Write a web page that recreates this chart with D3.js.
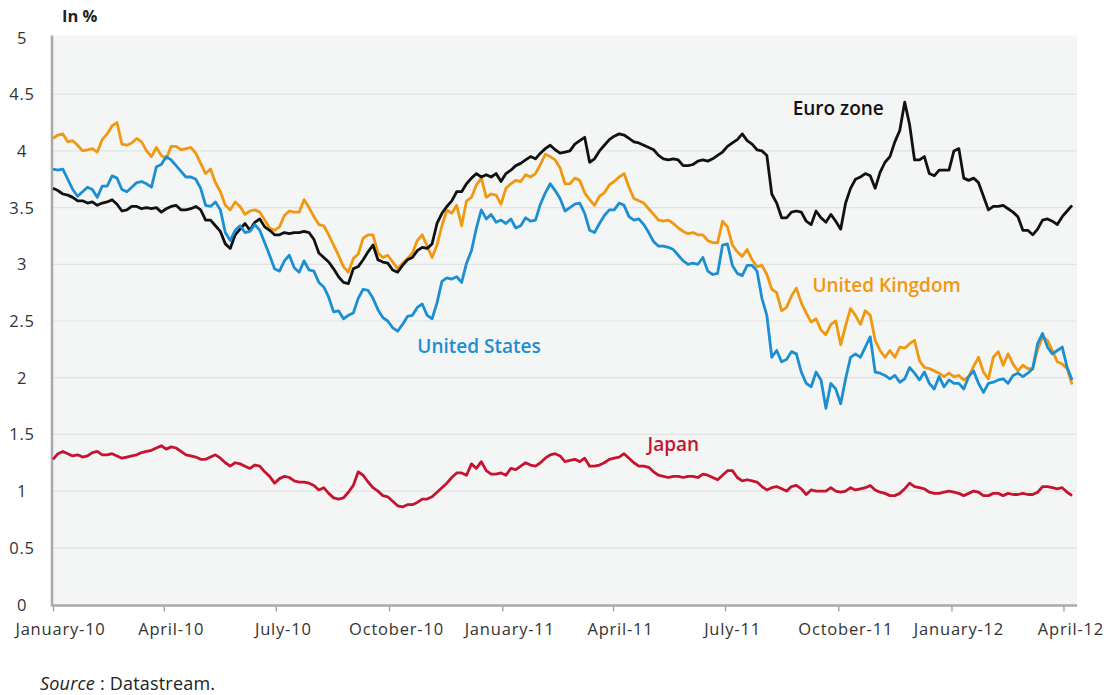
<!DOCTYPE html>
<html>
<head>
<meta charset="utf-8">
<script src="https://cdn.jsdelivr.net/npm/d3@7"></script>
<style>
  body { margin: 0; background: #fff; }
  svg text { font-family: "Open Sans", "DejaVu Sans", sans-serif; }
</style>
</head>
<body>
<div id="viz"></div>
<script>
// 10-year government bond yields, read every 4 days from 1 Jan 2010
sampleStart = "2010-01-01";
sampleStepDays = 4;

euroZone = [
  3.67, 3.65, 3.62, 3.61, 3.59, 3.56, 3.56, 3.54, 3.55, 3.52,
  3.54, 3.55, 3.57, 3.53, 3.47, 3.48, 3.51, 3.51, 3.49, 3.50,
  3.49, 3.50, 3.46, 3.49, 3.51, 3.52, 3.48, 3.48, 3.49, 3.51,
  3.48, 3.39, 3.39, 3.34, 3.29, 3.18, 3.14, 3.26, 3.31, 3.36,
  3.30, 3.37, 3.40, 3.33, 3.30, 3.26, 3.26, 3.28, 3.27, 3.28,
  3.28, 3.29, 3.28, 3.22, 3.10, 3.06, 3.02, 2.96, 2.89, 2.84,
  2.83, 2.96, 2.98, 3.04, 3.11, 3.17, 3.04, 3.02, 3.01, 2.95,
  2.93, 2.99, 3.04, 3.06, 3.12, 3.15, 3.14, 3.18, 3.36, 3.45,
  3.51, 3.56, 3.64, 3.64, 3.71, 3.76, 3.80, 3.77, 3.79, 3.77,
  3.80, 3.73, 3.80, 3.83, 3.87, 3.89, 3.92, 3.95, 3.93, 3.98,
  4.02, 4.05, 4.01, 3.98, 3.99, 4.00, 4.06, 4.09, 4.12, 3.90,
  3.93, 4.00, 4.05, 4.10, 4.13, 4.15, 4.14, 4.11, 4.08, 4.07,
  4.05, 4.03, 4.01, 3.96, 3.93, 3.92, 3.93, 3.92, 3.87, 3.87,
  3.88, 3.91, 3.92, 3.91, 3.93, 3.96, 3.99, 4.04, 4.07, 4.10,
  4.15, 4.09, 4.06, 4.01, 4.00, 3.96, 3.62, 3.54, 3.41, 3.41,
  3.46, 3.47, 3.46, 3.38, 3.35, 3.47, 3.41, 3.37, 3.44, 3.38,
  3.31, 3.54, 3.67, 3.75, 3.77, 3.80, 3.78, 3.67, 3.81, 3.90,
  3.95, 4.08, 4.18, 4.43, 4.23, 3.92, 3.92, 3.95, 3.80, 3.78,
  3.83, 3.83, 3.83, 4.00, 4.02, 3.76, 3.74, 3.76, 3.72, 3.60,
  3.48, 3.51, 3.51, 3.52, 3.49, 3.46, 3.42, 3.30, 3.30, 3.26,
  3.31, 3.39, 3.40, 3.38, 3.35, 3.42, 3.47, 3.52
];

unitedKingdom = [
  4.11, 4.14, 4.15, 4.08, 4.09, 4.05, 4.00, 4.01, 4.02, 3.99,
  4.10, 4.15, 4.22, 4.25, 4.06, 4.05, 4.07, 4.11, 4.08, 4.00,
  3.95, 4.03, 3.96, 3.93, 4.04, 4.04, 4.01, 4.02, 4.03, 3.98,
  3.89, 3.80, 3.84, 3.72, 3.64, 3.52, 3.48, 3.55, 3.51, 3.44,
  3.47, 3.48, 3.46, 3.39, 3.32, 3.30, 3.33, 3.43, 3.47, 3.46,
  3.46, 3.57, 3.50, 3.42, 3.35, 3.34, 3.26, 3.17, 3.08, 2.98,
  2.93, 3.05, 3.09, 3.23, 3.26, 3.26, 3.10, 3.06, 3.08, 3.02,
  2.96, 3.01, 3.05, 3.10, 3.21, 3.26, 3.16, 3.06, 3.17, 3.34,
  3.48, 3.45, 3.52, 3.34, 3.56, 3.59, 3.70, 3.76, 3.59, 3.62,
  3.61, 3.53, 3.67, 3.71, 3.74, 3.73, 3.79, 3.77, 3.80, 3.88,
  3.97, 3.95, 3.92, 3.85, 3.71, 3.71, 3.76, 3.74, 3.63, 3.57,
  3.52, 3.60, 3.63, 3.70, 3.73, 3.77, 3.80, 3.68, 3.58, 3.56,
  3.54, 3.49, 3.44, 3.39, 3.38, 3.39, 3.36, 3.32, 3.29, 3.27,
  3.28, 3.26, 3.26, 3.21, 3.19, 3.19, 3.38, 3.33, 3.17, 3.11,
  3.07, 3.13, 3.04, 2.98, 2.99, 2.91, 2.78, 2.75, 2.59, 2.62,
  2.72, 2.79, 2.66, 2.57, 2.49, 2.52, 2.42, 2.38, 2.47, 2.50,
  2.29, 2.46, 2.61, 2.55, 2.47, 2.59, 2.55, 2.33, 2.24, 2.18,
  2.24, 2.18, 2.27, 2.26, 2.30, 2.33, 2.15, 2.09, 2.08, 2.06,
  2.04, 2.01, 2.04, 2.01, 2.02, 1.98, 2.01, 2.10, 2.18, 2.05,
  1.99, 2.18, 2.23, 2.11, 2.21, 2.12, 2.06, 2.11, 2.08, 2.08,
  2.25, 2.36, 2.33, 2.24, 2.14, 2.12, 2.08, 1.94
];

unitedStates = [
  3.84, 3.83, 3.84, 3.75, 3.66, 3.60, 3.64, 3.68, 3.66, 3.59,
  3.69, 3.69, 3.78, 3.76, 3.66, 3.64, 3.68, 3.72, 3.73, 3.71,
  3.68, 3.86, 3.88, 3.95, 3.92, 3.87, 3.82, 3.77, 3.77, 3.75,
  3.67, 3.52, 3.51, 3.55, 3.48, 3.28, 3.21, 3.30, 3.34, 3.28,
  3.29, 3.35, 3.30, 3.19, 3.08, 2.96, 2.94, 3.03, 3.08, 2.97,
  2.93, 3.03, 2.95, 2.94, 2.84, 2.80, 2.71, 2.58, 2.59, 2.52,
  2.55, 2.57, 2.70, 2.78, 2.77, 2.70, 2.60, 2.53, 2.50, 2.44,
  2.41, 2.47, 2.54, 2.55, 2.62, 2.65, 2.55, 2.52, 2.66, 2.85,
  2.88, 2.87, 2.89, 2.84, 3.01, 3.12, 3.32, 3.48, 3.40, 3.44,
  3.37, 3.39, 3.36, 3.40, 3.32, 3.34, 3.41, 3.38, 3.39, 3.53,
  3.63, 3.71, 3.65, 3.58, 3.47, 3.50, 3.53, 3.54, 3.45, 3.30,
  3.28, 3.36, 3.43, 3.48, 3.48, 3.54, 3.52, 3.42, 3.39, 3.40,
  3.35, 3.28, 3.20, 3.16, 3.16, 3.15, 3.13, 3.08, 3.03, 3.00,
  3.01, 3.00, 3.06, 2.94, 2.91, 2.92, 3.17, 3.18, 2.99, 2.92,
  2.90, 2.99, 2.99, 2.94, 2.70, 2.55, 2.18, 2.24, 2.14, 2.16,
  2.23, 2.21, 2.05, 1.95, 1.92, 2.05, 1.98, 1.73, 1.95, 1.90,
  1.77, 1.99, 2.18, 2.21, 2.18, 2.27, 2.36, 2.05, 2.04, 2.02,
  1.99, 2.02, 1.96, 1.99, 2.09, 2.04, 1.98, 2.05, 1.95, 1.90,
  2.01, 1.92, 1.98, 1.95, 1.95, 1.90, 2.01, 2.06, 1.95, 1.87,
  1.95, 1.96, 1.98, 1.99, 1.95, 2.02, 2.04, 2.01, 2.04, 2.08,
  2.30, 2.39, 2.27, 2.21, 2.24, 2.27, 2.09, 1.98
];

japan = [
  1.28, 1.33, 1.35, 1.33, 1.31, 1.32, 1.30, 1.31, 1.34, 1.35,
  1.32, 1.32, 1.33, 1.31, 1.29, 1.30, 1.31, 1.32, 1.34, 1.35,
  1.36, 1.38, 1.40, 1.37, 1.39, 1.38, 1.35, 1.32, 1.31, 1.30,
  1.28, 1.28, 1.30, 1.32, 1.29, 1.25, 1.22, 1.25, 1.24, 1.22,
  1.20, 1.23, 1.22, 1.17, 1.13, 1.07, 1.11, 1.13, 1.12, 1.09,
  1.08, 1.08, 1.07, 1.05, 1.01, 1.03, 0.98, 0.94, 0.93, 0.94,
  0.99, 1.05, 1.17, 1.14, 1.08, 1.03, 1.00, 0.96, 0.95, 0.91,
  0.87, 0.86, 0.88, 0.88, 0.90, 0.93, 0.93, 0.95, 0.99, 1.03,
  1.07, 1.12, 1.16, 1.16, 1.14, 1.24, 1.20, 1.26, 1.18, 1.15,
  1.15, 1.16, 1.14, 1.20, 1.19, 1.22, 1.25, 1.23, 1.22, 1.25,
  1.29, 1.32, 1.33, 1.31, 1.26, 1.27, 1.28, 1.26, 1.29, 1.22,
  1.22, 1.23, 1.25, 1.28, 1.29, 1.30, 1.33, 1.29, 1.25, 1.22,
  1.22, 1.21, 1.17, 1.14, 1.13, 1.12, 1.13, 1.13, 1.12, 1.13,
  1.13, 1.12, 1.15, 1.14, 1.12, 1.10, 1.14, 1.18, 1.18, 1.12,
  1.09, 1.10, 1.09, 1.08, 1.04, 1.01, 1.03, 1.04, 1.02, 1.00,
  1.04, 1.05, 1.02, 0.97, 1.01, 1.00, 1.00, 1.00, 1.03, 1.00,
  0.99, 1.00, 1.03, 1.01, 1.02, 1.03, 1.05, 1.01, 0.99, 0.98,
  0.96, 0.96, 0.98, 1.02, 1.07, 1.04, 1.03, 1.02, 0.99, 0.98,
  0.98, 0.99, 1.00, 0.99, 0.98, 0.96, 0.98, 1.00, 0.99, 0.96,
  0.96, 0.98, 0.98, 0.96, 0.98, 0.97, 0.97, 0.98, 0.97, 0.97,
  0.99, 1.04, 1.04, 1.03, 1.02, 1.03, 0.99, 0.96
];

yTicks = [0, 0.5, 1, 1.5, 2, 2.5, 3, 3.5, 4, 4.5, 5];
tickDates = ["2010-01-01", "2010-04-01", "2010-07-01", "2010-10-01", "2011-01-01",
             "2011-04-01", "2011-07-01", "2011-10-01", "2012-01-01", "2012-04-01"];
tickLabels = ["January-10", "April-10", "July-10", "October-10", "January-11",
              "April-11", "July-11", "October-11", "January-12", "April-12"];

seriesNames = ["Euro zone", "United Kingdom", "United States", "Japan"];
seriesColors = ["#111111", "#f0980f", "#1b8fd2", "#c4142f"];

svgWidth = 1106;
svgHeight = 695;
plotLeft = 53;
plotRight = 1077;
plotTop = 37.5;
plotBottom = 604.5;

parseDate = d3.utcParse("%Y-%m-%d");
startDate = parseDate(sampleStart);

function toPoints(values) {
  return values.map(function(v, i) {
    return {date: d3.utcDay.offset(startDate, i * sampleStepDays), value: v};
  });
}

svg = d3.select("#viz").append("svg")
  .attr("width", svgWidth)
  .attr("height", svgHeight);

var x = d3.scaleUtc()
  .domain([parseDate("2010-01-01"), parseDate("2012-04-12")])
  .range([plotLeft, plotRight]);

var y = d3.scaleLinear()
  .domain([0, 5])
  .range([plotBottom, plotTop]);

// plot background
svg.append("rect")
  .attr("x", plotLeft)
  .attr("y", plotTop - 2)
  .attr("width", plotRight - plotLeft)
  .attr("height", plotBottom - plotTop + 2)
  .attr("fill", "#f4f5f5");

// gridlines
svg.append("g")
  .selectAll("line").data(yTicks.filter(function(d) {return d > 0 && d < 5;})).enter().append("line")
  .attr("x1", plotLeft)
  .attr("x2", plotRight)
  .attr("y1", function(d) {return y(d);})
  .attr("y2", function(d) {return y(d);})
  .attr("stroke", "#e2e3e3")
  .attr("stroke-width", 1.2);

// y tick labels
svg.append("g")
  .selectAll("text").data(yTicks).enter().append("text")
  .attr("x", 22)
  .attr("y", function(d) {return y(d) + 6;})
  .attr("text-anchor", "middle")
  .attr("fill", "#333")
  .style("font-size", "16.5px")
  .style("letter-spacing", "0.8px")
  .text(function(d) {return d;});

// bottom axis
var xAxis = d3.axisBottom(x)
  .tickValues(tickDates.map(parseDate))
  .tickSize(6)
  .tickFormat(function(d, i) {return tickLabels[i];});

var gx = svg.append("g")
  .attr("transform", "translate(0," + (plotBottom + 1) + ")")
  .call(xAxis);

gx.select(".domain").remove();
gx.selectAll(".tick line").attr("stroke", "#a9a9a9").attr("stroke-width", 1.5);
gx.selectAll(".tick text")
  .attr("y", 24)
  .attr("dy", "0.32em")
  .attr("dx", 7)
  .attr("fill", "#333")
  .style("font-size", "16.5px")
  .style("letter-spacing", "0.8px")
  .style("font-family", "'Open Sans', sans-serif");

svg.append("line")
  .attr("x1", plotLeft - 1)
  .attr("x2", plotRight)
  .attr("y1", plotBottom + 1)
  .attr("y2", plotBottom + 1)
  .attr("stroke", "#a9a9a9")
  .attr("stroke-width", 2.5);

svg.append("line")
  .attr("x1", plotLeft - 1)
  .attr("x2", plotLeft - 1)
  .attr("y1", plotTop - 2)
  .attr("y2", plotBottom + 2)
  .attr("stroke", "#a9a9a9")
  .attr("stroke-width", 2.5);

var line = d3.line()
  .x(function(d) {return x(d.date);})
  .y(function(d) {return y(d.value);});

allSeries = [euroZone, unitedKingdom, unitedStates, japan];
drawOrder = [1, 0, 2, 3];

svg.append("g")
  .selectAll("path").data(drawOrder).enter().append("path")
  .datum(function(i) {return {points: toPoints(allSeries[i]), color: seriesColors[i]};})
  .attr("d", function(d) {return line(d.points);})
  .attr("fill", "none")
  .attr("stroke", function(d) {return d.color;})
  .attr("stroke-width", 2.8)
  .attr("stroke-linejoin", "round");

// series labels, anchored at a date and a value
labelDates = ["2011-08-25", "2011-09-10", "2010-10-24", "2011-04-29"];
labelValues = [4.32, 2.76, 2.22, 1.35];

svg.append("g")
  .selectAll("text").data(seriesNames).enter().append("text")
  .attr("x", function(d, i) {return x(parseDate(labelDates[i]));})
  .attr("y", function(d, i) {return y(labelValues[i]);})
  .attr("fill", function(d, i) {return seriesColors[i];})
  .style("font-size", "19px")
  .style("font-weight", 600)
  .text(function(d) {return d;});

svg.append("text")
  .attr("x", 62)
  .attr("y", 22)
  .attr("fill", "#222")
  .style("font-size", "16.5px")
  .style("font-weight", 700)
  .text("In %");

var source = svg.append("text")
  .attr("x", 40)
  .attr("y", 690)
  .attr("fill", "#222")
  .style("font-size", "18px")
  .style("letter-spacing", "0.2px");
source.append("tspan").style("font-style", "italic").text("Source");
source.append("tspan").text(" : Datastream.");
</script>
</body>
</html>
